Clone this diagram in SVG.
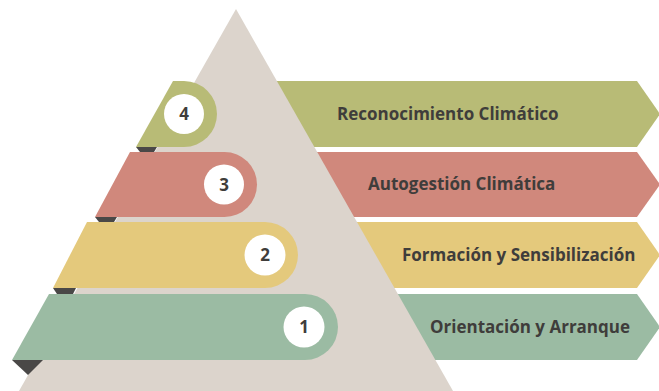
<svg xmlns="http://www.w3.org/2000/svg" width="659" height="391" viewBox="0 0 659 391">
<style>
.lbl{font-family:"Open Sans","Liberation Sans",Arial,sans-serif;font-weight:700;font-size:17px;fill:#3f3d3b}
.num{font-family:"Open Sans","Liberation Sans",Arial,sans-serif;font-weight:700;font-size:17px;fill:#3f3d3b;text-anchor:middle}
.circ{fill:#ffffff}
.fold{fill:#4a4847}
</style>
<rect width="659" height="391" fill="#ffffff"/>
<g id="arrows">
<polygon id="arrow4" points="250,81 637,81 660,114 637,147 250,147" fill="#b8bb76"/>
<polygon id="arrow3" points="250,152 637,152 660,184.5 637,217 250,217" fill="#d0887c"/>
<polygon id="arrow2" points="250,222 637,222 660,255 637,288 250,288" fill="#e4c97c"/>
<polygon id="arrow1" points="250,294 637,294 660,327 637,360 250,360" fill="#9bbba3"/>
</g>
<polygon id="pyramid" points="236,9 453,391 19,391" fill="#dcd4cc"/>
<g id="step4">
<polygon class="fold" points="136,147 157,147 154,152 140,152"/>
<path d="M173,81 H184 A33,33 0 0 1 184,147 H136 Z" fill="#b8bb76"/>
<circle class="circ" cx="184" cy="114" r="20"/>
<text class="num" x="184" y="120">4</text>
</g>
<g id="step3">
<polygon class="fold" points="95,217 117,217 114,222 99,222"/>
<path d="M130,152 H224.5 A32.5,32.5 0 0 1 224.5,217 H95 Z" fill="#d0887c"/>
<circle class="circ" cx="224" cy="184.5" r="20"/>
<text class="num" x="224" y="190.5">3</text>
</g>
<g id="step2">
<polygon class="fold" points="53,288 76,288 73,294 57,294"/>
<path d="M87,222 H265 A33,33 0 0 1 265,288 H53 Z" fill="#e4c97c"/>
<circle class="circ" cx="265" cy="255" r="20.5"/>
<text class="num" x="265" y="261">2</text>
</g>
<g id="step1">
<polygon class="fold" points="12,360 43,360 28,375"/>
<path d="M49,294 H305 A33,33 0 0 1 305,360 H12 Z" fill="#9bbba3"/>
<circle class="circ" cx="304" cy="327" r="20.5"/>
<text class="num" x="304" y="333">1</text>
</g>
<g id="labels">
<text class="lbl" x="337" y="120">Reconocimiento Climático</text>
<text class="lbl" x="368" y="190">Autogestión Climática</text>
<text class="lbl" x="402" y="261">Formación y Sensibilización</text>
<text class="lbl" x="430" y="333">Orientación y Arranque</text>
</g>
</svg>
